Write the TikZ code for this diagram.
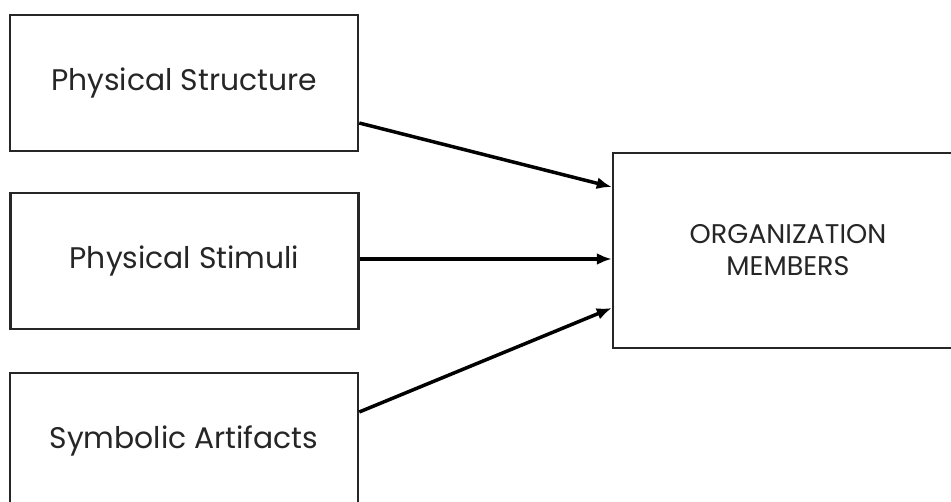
\documentclass[tikz,border=0pt]{standalone}
\usepackage{fontspec}
\setmainfont{Poppins}
\usetikzlibrary{calc,arrows.meta}
\begin{document}
\begin{tikzpicture}[x=1pt,y=-1pt,
  srcbox/.style={draw=black!85,line width=2.5pt,minimum width=348pt,minimum height=136pt,
    inner sep=0pt,font=\fontsize{29.8}{32}\selectfont,text=black!85},
  tgtbox/.style={draw=black!85,line width=2.5pt,minimum width=350pt,minimum height=195pt,
    inner sep=0pt,align=center,font=\fontsize{27}{32}\selectfont,text=black!85},
  flow/.style={line width=3.5pt,-{Latex[length=15pt,width=12pt]}}]
  \useasboundingbox (0,0) rectangle (951,502);
  \clip (0,0) rectangle (951,502);
  \fill[white] (0,0) rectangle (951,502);
  % source boxes on the left
  \node[srcbox] (ps) at (184,83) {Physical Structure};
  \node[srcbox] (st) at (184.5,261) {Physical Stimuli};
  \node[srcbox] (sa) at (184,441) {Symbolic Artifacts};
  % target box on the right
  \node[tgtbox] (om) at (788,250.5) {ORGANIZATION\\MEMBERS};
  % connectors
  \draw[flow] ($(ps.east)+(0,40)$) -- ($(om.west)+(0,-63.5)$);
  \draw[flow] ($(st.east)+(0,-2)$) -- ($(om.west)+(0,8.5)$);
  \draw[flow] ($(sa.east)+(0,-29)$) -- ($(om.west)+(0,57.5)$);
\end{tikzpicture}
\end{document}
